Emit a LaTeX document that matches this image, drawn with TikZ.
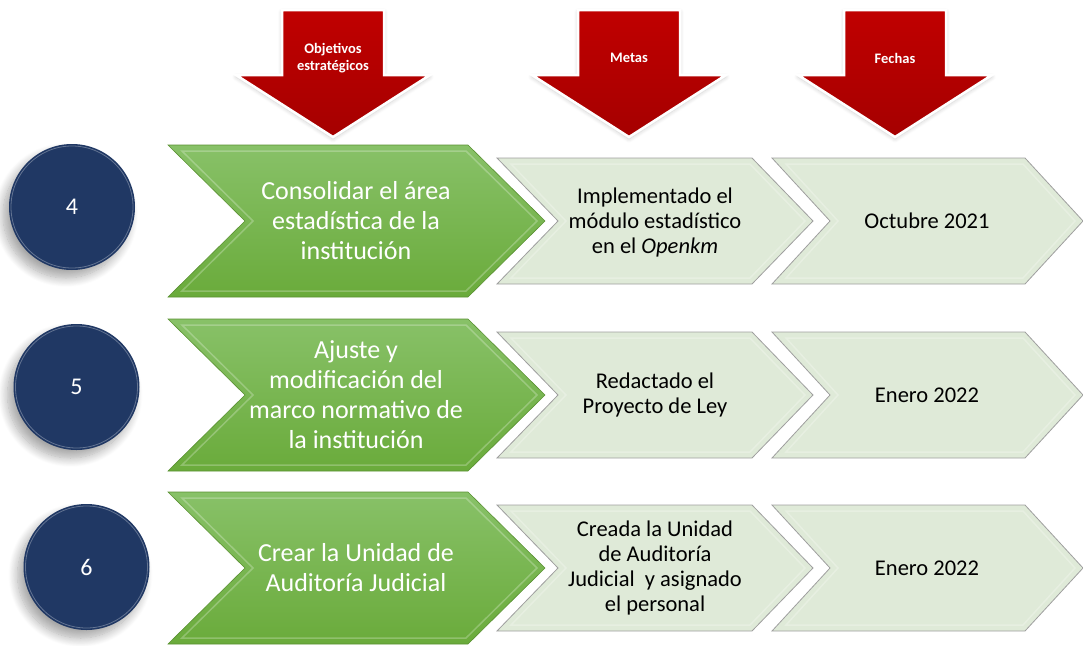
\documentclass[tikz,border=0pt]{standalone}
\usepackage{fontspec}
\setmainfont{Carlito}
\usetikzlibrary{shadows.blur}
\definecolor{navy}{HTML}{203864}
\definecolor{grntop}{HTML}{88C168}
\definecolor{grnbot}{HTML}{6AAB3B}
\definecolor{pale}{HTML}{DFEAD8}
\definecolor{redtop}{HTML}{C00000}
\definecolor{redbot}{HTML}{A50000}
% chevron: left x, tip x, centre y, half height, depth, style
\newcommand{\chevron}[6]{%
\draw[#6] (#1,#3-#4) -- (#2-#5,#3-#4) -- (#2,#3) -- (#2-#5,#3+#4) -- (#1,#3+#4) -- (#1+#5,#3) -- cycle;
\draw[bevel] (#1+14,#3-#4+6) -- (#2-#5-2,#3-#4+6) -- (#2-8,#3) -- (#2-#5-2,#3+#4-6) -- (#1+14,#3+#4-6) -- (#1+#5+8,#3) -- cycle;}
% down arrow: centre x
\newcommand{\headarrow}[1]{%
\draw[headbox] (#1-51,10) -- (#1+51,10) -- (#1+51,75) -- (#1+97,75) -- (#1,137) -- (#1-97,75) -- (#1-51,75) -- cycle;}
\begin{document}
\begin{tikzpicture}[x=1pt,y=-1pt,inner sep=0pt,outer sep=0pt,
numcirc/.style={circle,fill=navy,minimum size=126pt,text=white,font=\fontsize{24}{28}\selectfont,
  blur shadow={shadow xshift=-6pt,shadow yshift=-8pt,shadow blur radius=9pt,shadow blur steps=12,shadow opacity=35}},
grnbox/.style={top color=grntop,bottom color=grnbot,draw=grnbot!85!black,line width=.6pt},
palebox/.style={fill=pale,draw=gray!75,line width=.8pt},
bevel/.style={draw=white,opacity=.25,line width=1.5pt},
headbox/.style={top color=redtop,bottom color=redbot,draw=white,line width=2.5pt,
  blur shadow={shadow xshift=0pt,shadow yshift=-2pt,shadow blur radius=4pt,shadow blur steps=6,shadow opacity=20}},
objtext/.style={align=center,text=white,font=\fontsize{26}{30}\selectfont},
metatext/.style={align=center,text=black,font=\fontsize{22.5}{25}\selectfont},
headtext/.style={align=center,text=white,font=\bfseries\fontsize{14.5}{16.5}\selectfont}]
\useasboundingbox (0,0) rectangle (1083,645);

% column heads
\headarrow{333}
\headarrow{629}
\headarrow{895}
\draw (333,58) node[headtext] (hobj) {Objetivos\\estratégicos};
\draw (629,58) node[headtext] (hmeta) {Metas};
\draw (895,58) node[headtext] (hfecha) {Fechas};

% rows
\foreach \y in {221,395,568} {
  \chevron{168}{545}{\y}{76}{77}{grnbox}
  \chevron{497}{813}{\y}{63}{61}{palebox}
  \chevron{772}{1083}{\y}{63}{58}{palebox}
}

\draw (72,207) node[numcirc] (num4) {4};
\draw (76.5,387) node[numcirc] (num5) {5};
\draw (86.5,567) node[numcirc] (num6) {6};
\foreach \n in {num4,num5,num6}
  \draw[white,opacity=.3,line width=.8pt] (\n) circle (61);

\draw (356,221) node[objtext] (obj4) {Consolidar el área\\estadística de la\\institución};
\draw (356,395) node[objtext] (obj5) {Ajuste y\\modificación del\\marco normativo de\\la institución};
\draw (356,568) node[objtext] (obj6) {Crear la Unidad de\\Auditoría Judicial};

\draw (655,222) node[metatext] (meta4) {Implementado el\\módulo estadístico\\en el \textit{Openkm}};
\draw (655,395) node[metatext] (meta5) {Redactado el\\Proyecto de Ley};
\draw (655,568) node[metatext] (meta6) {Creada la Unidad\\de Auditoría\\Judicial~ y asignado\\el personal};

\draw (927,221) node[metatext] (fecha4) {Octubre 2021};
\draw (927,395) node[metatext] (fecha5) {Enero 2022};
\draw (927,568) node[metatext] (fecha6) {Enero 2022};
\end{tikzpicture}
\end{document}
